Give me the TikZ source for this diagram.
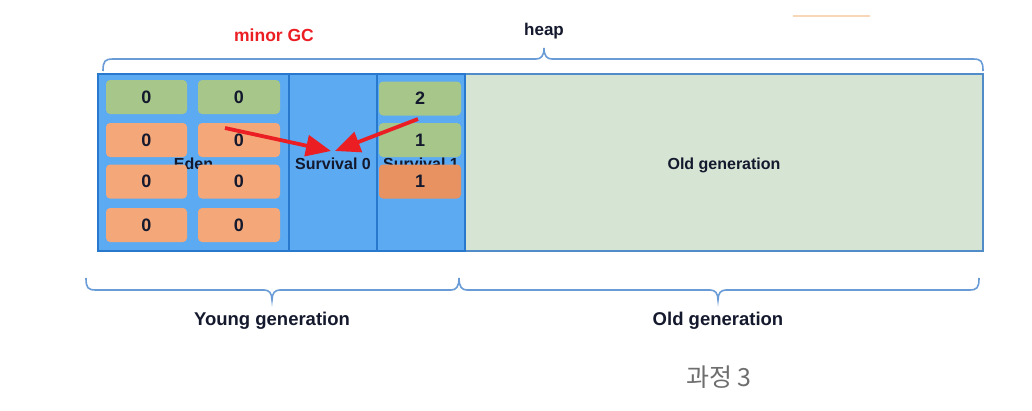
\documentclass[tikz,border=0pt]{standalone}
\usepackage{fontspec}
\setmainfont{Liberation Sans}
\newfontfamily\krfont{Noto Sans CJK KR}
\usetikzlibrary{arrows.meta}
\definecolor{bluefill}{RGB}{92,170,242}
\definecolor{blueline}{RGB}{40,120,205}
\definecolor{greenbox}{RGB}{166,198,138}
\definecolor{orangebox}{RGB}{244,168,122}
\definecolor{orangedark}{RGB}{232,146,98}
\definecolor{oldfill}{RGB}{214,228,212}
\definecolor{oldline}{RGB}{80,140,200}
\definecolor{bracecol}{RGB}{105,155,215}
\definecolor{txt}{RGB}{20,25,45}
\definecolor{arrowred}{RGB}{235,30,35}
\definecolor{graytxt}{RGB}{110,110,110}
\definecolor{faintorange}{RGB}{248,215,185}
\tikzset{
  region/.style={draw=blueline, fill=bluefill, line width=1.5pt, inner sep=0pt,
    minimum height=177pt, text=txt, text height=16pt, text depth=1.4pt,
    font=\bfseries\fontsize{16}{18}\selectfont},
  oldregion/.style={region, draw=oldline, fill=oldfill},
  cell/.style={rounded corners=4pt, inner sep=0pt, minimum height=34pt,
    text=txt, font=\bfseries\fontsize{18}{20}\selectfont},
  gcell/.style={cell, fill=greenbox, minimum width=82pt},
  ocell/.style={cell, fill=orangebox, minimum width=82pt},
  dcell/.style={cell, fill=orangedark, minimum width=82pt},
  bracepath/.style={draw=bracecol, line width=1.6pt},
  redarrow/.style={draw=arrowred, line width=3.8pt, -{Triangle[length=25pt,width=21pt]}},
  biglabel/.style={text=txt, font=\bfseries\fontsize{18.5}{20}\selectfont},
}
\begin{document}
\begin{tikzpicture}[x=1pt,y=-1pt]
\useasboundingbox (0,0) rectangle (1032,410);
\fill[white] (0,0) rectangle (1032,410);

% faint orange mark
\coordinate (fo1) at (793,16);
\coordinate (fo2) at (870,16);
\draw[faintorange, line width=1.5pt] (fo1) -- (fo2);

% labels on top
\node[text=arrowred, font=\bfseries\fontsize{17.5}{19}\selectfont] (minorgc) at (274,35) {minor GC};
\node[biglabel, font=\bfseries\fontsize{17}{19}\selectfont] (heap) at (544,31) {heap};

% heap brace
\draw[bracepath] (103,71) .. controls (103,61) and (105,59) .. (113,59) -- (536,59)
  .. controls (541,59) and (544,56) .. (544,48)
  .. controls (544,56) and (547,59) .. (552,59) -- (973,59)
  .. controls (981,59) and (983,61) .. (983,71);

% regions
\node[oldregion, minimum width=518pt] (old) at (724,162.5) {Old generation};
\node[region, minimum width=191pt] (eden) at (193.5,162.5) {Eden};
\node[region, minimum width=88pt] (s0) at (333,162.5) {Survival 0};
\node[region, minimum width=88pt] (s1) at (421,162.5) {Survival 1};

% eden cells
\node[gcell, minimum width=81pt] (e11) at (146.5,97) {0};
\node[gcell] (e12) at (239,97) {0};
\node[ocell, minimum width=81pt] (e21) at (146.5,140) {0};
\node[ocell] (e22) at (239,140) {0};
\node[ocell, minimum width=81pt] (e31) at (146.5,181.5) {0};
\node[ocell] (e32) at (239,181.5) {0};
\node[ocell, minimum width=81pt] (e41) at (146.5,225) {0};
\node[ocell] (e42) at (239,225) {0};

% survival 1 cells
\node[gcell] (s11) at (420,98.5) {2};
\node[gcell] (s12) at (420,140) {1};
\node[dcell] (s13) at (420,181.5) {1};

% arrows
\coordinate (a1s) at (225,128);
\coordinate (a1e) at (331,151);
\coordinate (a2s) at (418,119);
\coordinate (a2e) at (335,151);
\draw[redarrow] (a1s) -- (a1e);
\draw[redarrow] (a2s) -- (a2e);

% bottom braces
\draw[bracepath] (86,278) .. controls (86,288) and (88,290) .. (96,290) -- (264,290)
  .. controls (269,290) and (272,293) .. (272,300)
  .. controls (272,293) and (275,290) .. (280,290) -- (451,290)
  .. controls (456,290) and (459,287) .. (459,278);
\draw[bracepath] (459,278) .. controls (459,287) and (462,290) .. (467,290) -- (710,290)
  .. controls (715,290) and (718,293) .. (718,300)
  .. controls (718,293) and (721,290) .. (726,290) -- (969,290)
  .. controls (977,290) and (979,288) .. (979,278);

\node[biglabel] (young) at (272,321) {Young generation};
\node[biglabel] (oldlbl) at (718,321) {Old generation};
\node[text=graytxt, font=\krfont\fontsize{25}{27}\selectfont] (step3) at (719,377) {과정 3};
\end{tikzpicture}
\end{document}
